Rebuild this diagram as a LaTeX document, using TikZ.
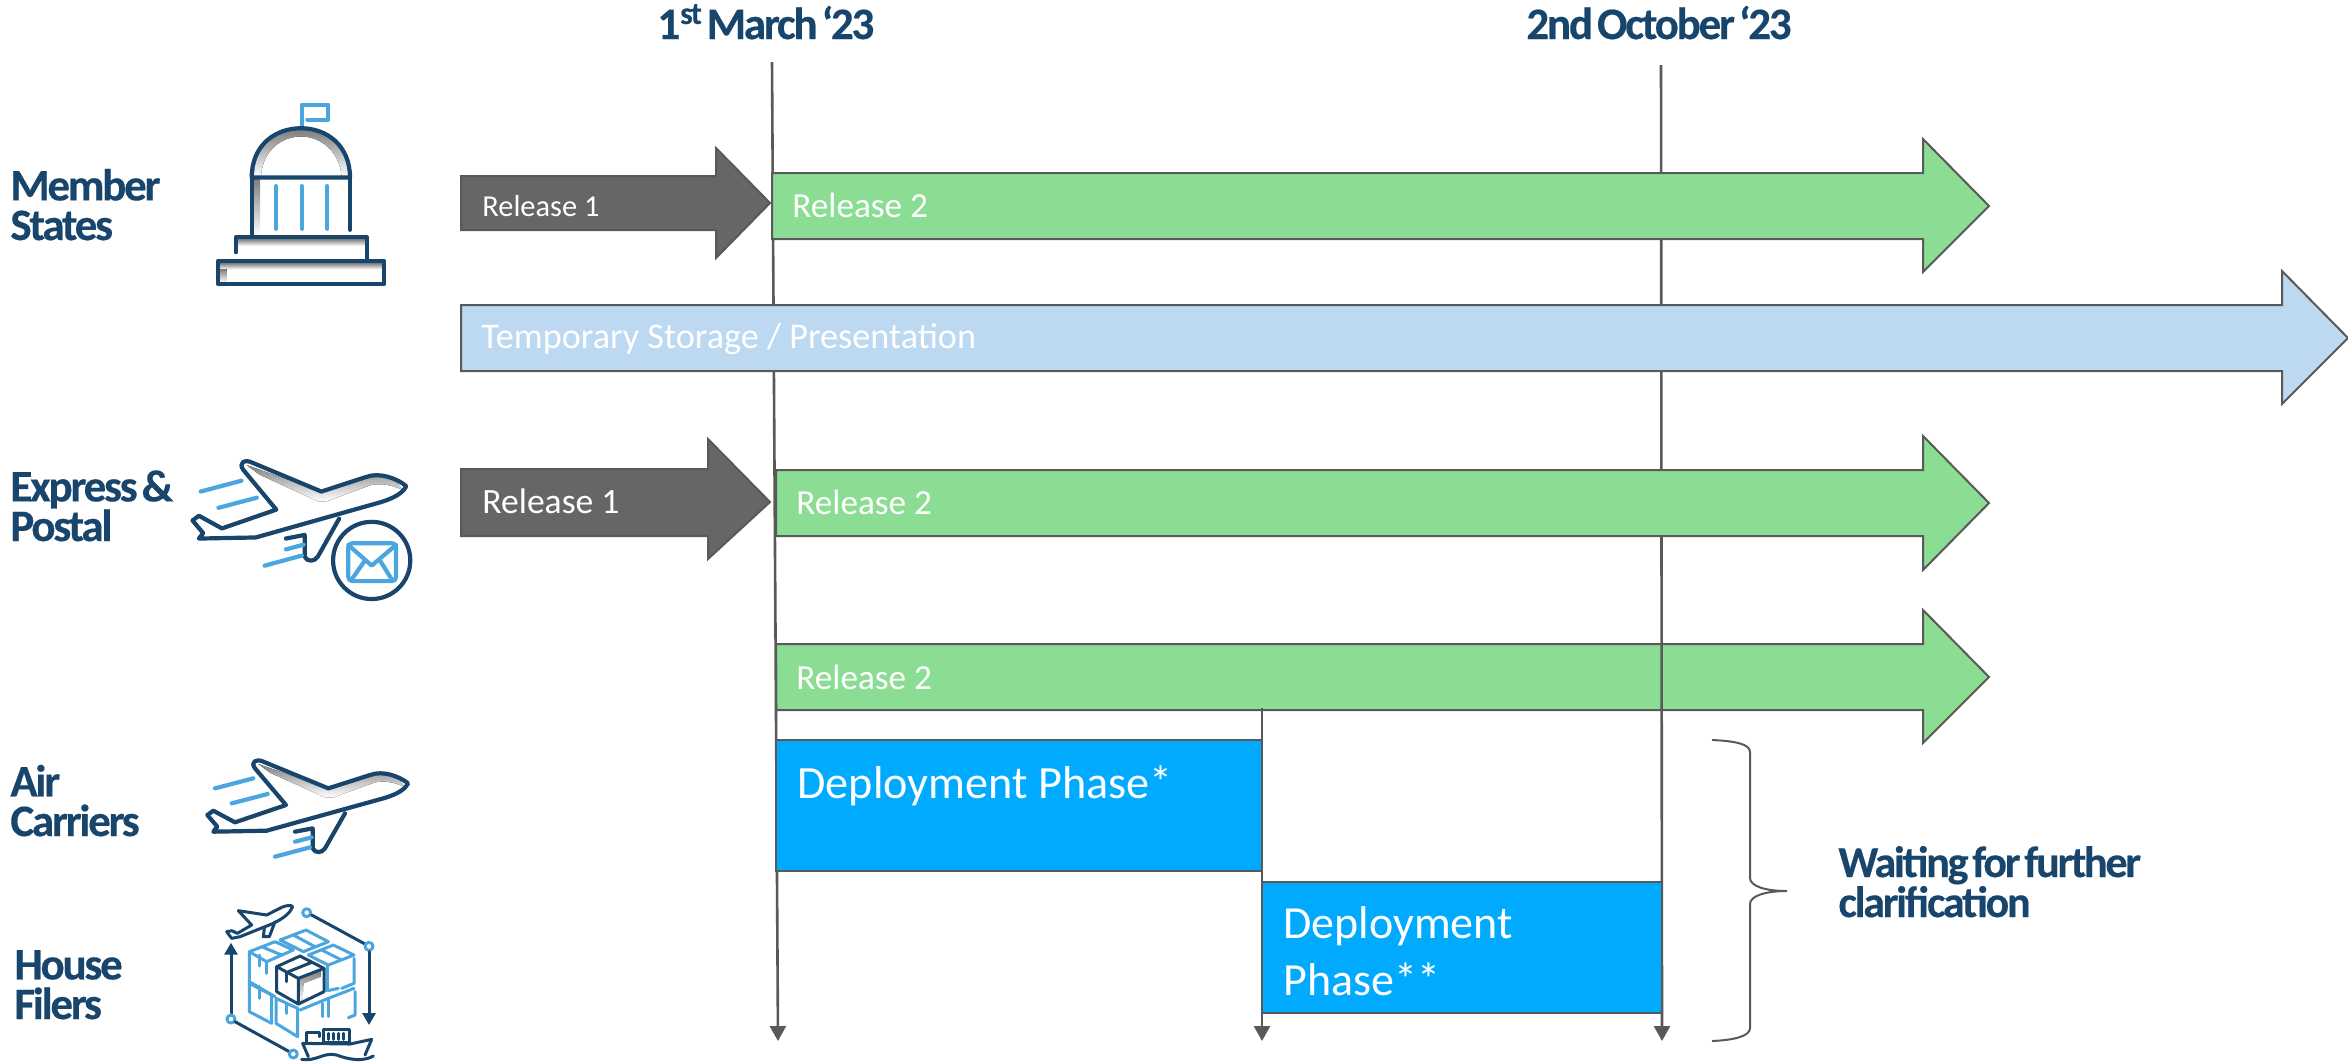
\documentclass[tikz,border=0pt]{standalone}
\usepackage{fontspec}
\usetikzlibrary{arrows.meta}
\setmainfont{Carlito}
\newfontfamily\headfont[LetterSpace=-5,FakeBold=0.35,WordSpace=0.5]{Carlito}
\definecolor{navy}{HTML}{17456B}
\definecolor{iconblue}{HTML}{4BA6E0}
\definecolor{shade}{HTML}{CCCCCC}
\definecolor{edgegrey}{HTML}{595959}
\definecolor{relgreen}{HTML}{8CDD94}
\definecolor{relgrey}{HTML}{666666}
\definecolor{tempblue}{HTML}{BDD9F2}
\definecolor{deploy}{HTML}{00AAFF}
\tikzset{
  barshape/.style={draw=edgegrey,line width=1pt,line join=miter},
  greybar/.style={barshape,fill=relgrey},
  greenbar/.style={barshape,fill=relgreen},
  tempbar/.style={barshape,fill=tempblue},
  deploybar/.style={barshape,fill=deploy},
  timeline/.style={draw=edgegrey,line width=1.3pt,-{Triangle[length=7.5pt,width=8pt]}},
  heading/.style={anchor=base west,inner sep=0pt,text=navy,align=left,font=\headfont\bfseries\fontsize{22.5}{19.8}\selectfont},
  barlabel/.style={anchor=base west,inner sep=0pt,text=white,align=left},
  darkline/.style={draw=navy,line width=2.1pt,line cap=round,line join=round},
  blueline/.style={draw=iconblue,line width=2.1pt,line cap=round,line join=round},
  thindark/.style={draw=navy,line width=1.5pt,line cap=round,line join=round},
  thinblue/.style={draw=iconblue,line width=1.5pt,line cap=round,line join=round},
}
\newcommand{\planeicon}{%
  \fill[shade] (775,132) -- (985,205) -- (1125,165) .. controls (1170,160) and (1200,175) .. (1212,200)
     .. controls (1180,185) and (1150,182) .. (1125,187) -- (1000,232) -- (975,232) -- (810,158) -- cycle;
  \draw[darkline] (640,272) -- (705,307) -- (858,255) -- (765,145) .. controls (750,125) and (770,115) .. (790,125)
     -- (985,205) -- (1110,165) .. controls (1150,150) and (1200,170) .. (1224,190)
     .. controls (1215,210) and (1185,225) .. (1150,235) -- (800,332) -- (640,335) -- (652,320) -- (622,285) -- cycle;
  \draw[darkline] (1035,280) -- (975,385) .. controls (965,400) and (945,400) .. (938,385) -- (938,325) -- (885,335);
  \draw[blueline] (645,205) -- (760,175);
  \draw[blueline] (695,250) -- (803,222);
  \draw[blueline] (825,410) -- (930,382);
  \draw[blueline] (885,365) -- (935,352);
}
\begin{document}
\begin{tikzpicture}[x=0.5pt,y=-0.5pt]
\useasboundingbox (0,0) rectangle (2348,1062);

% timeline end points
\coordinate (t1a) at (772,62);   \coordinate (t1b) at (778,1041);
\coordinate (t2a) at (1661,65);  \coordinate (t2b) at (1662,1041);
\coordinate (t3a) at (1262,708); \coordinate (t3b) at (1262,1041);

% third green arrow lies below the date lines
\draw[greenbar] (776,644) -- (1923,644) -- (1923,610) -- (1989,677) -- (1923,743) -- (1923,710) -- (776,710) -- cycle;

\draw[timeline] (t1a) -- (t1b);
\draw[timeline] (t2a) -- (t2b);
\draw[timeline] (t3a) -- (t3b);

% bars
\draw[greybar] (461,176) -- (716,176) -- (716,148) -- (770,203) -- (716,258) -- (716,230) -- (461,230) -- cycle;
\draw[greenbar] (772,173) -- (1923,173) -- (1923,139) -- (1989,206) -- (1923,272) -- (1923,239) -- (772,239) -- cycle;
\draw[tempbar] (461,305) -- (2282,305) -- (2282,271) -- (2348,338) -- (2282,404) -- (2282,371) -- (461,371) -- cycle;
\draw[greybar] (461,469) -- (708,469) -- (708,439) -- (770,502) -- (708,559) -- (708,536) -- (461,536) -- cycle;
\draw[greenbar] (776,470) -- (1923,470) -- (1923,436) -- (1989,503) -- (1923,570) -- (1923,536) -- (776,536) -- cycle;
\draw[deploybar] (776,740) rectangle (1262,871);
\draw[deploybar] (1262,882) rectangle (1662,1013);

% bar labels
\node[barlabel,font=\fontsize{15.2}{18}\selectfont] (r1a) at (482,216) {Release 1};
\node[barlabel,font=\fontsize{17.6}{21}\selectfont] (r2a) at (792,217) {Release 2};
\node[barlabel,font=\fontsize{18.1}{21}\selectfont] (temp) at (481,348) {Temporary Storage / Presentation};
\node[barlabel,font=\fontsize{17.8}{21}\selectfont] (r1b) at (482,513) {Release 1};
\node[barlabel,font=\fontsize{17.6}{21}\selectfont] (r2b) at (796,514) {Release 2};
\node[barlabel,font=\fontsize{17.6}{21}\selectfont] (r2c) at (796,689) {Release 2};
\node[barlabel,font=\fontsize{23.1}{28}\selectfont] (d1) at (797,798) {Deployment Phase*};
\node[barlabel,font=\fontsize{23}{28.5}\selectfont] (d2) at (1283,995) {Deployment\\Phase**};

% headings
\node[heading] (date1) at (657,39) {1\textsuperscript{st} March ‘23};
\node[heading] (date2) at (1526,39) {2nd October ‘23};
\node[heading] (ms) at (10,240) {Member\\States};
\node[heading] (ep) at (10,541) {Express \&\\Postal};
\node[heading] (ac) at (10,836) {Air\\Carriers};
\node[heading] (hf) at (14,1019) {House\\Filers};
\node[heading,font=\headfont\bfseries\fontsize{22}{20}\selectfont] (wait) at (1838,917) {Waiting for further\\clarification};

% brace
\draw[edgegrey,line width=1pt] (1712,740) .. controls (1735,741) and (1750,744) .. (1750,752) -- (1750,878)
  .. controls (1750,886) and (1765,891) .. (1787,891) .. controls (1765,891) and (1750,896) .. (1750,904)
  -- (1750,1028) .. controls (1750,1036) and (1735,1040) .. (1712,1041);

% member states icon
\begin{scope}[shift={(0,80)},x=0.16667pt,y=-0.1722pt]
  \fill[shade,even odd rule] (762,283) .. controls (762,190) and (825,145) .. (903,145) .. controls (980,145) and (1045,190) .. (1045,283) -- cycle
     (783,283) .. controls (785,210) and (840,164) .. (903,164) .. controls (965,164) and (1020,210) .. (1025,283) -- cycle;
  \fill[shade] (762,290) rectangle (780,452);
  \fill[shade] (712,462) rectangle (1095,482);
  \fill[shade] (660,532) rectangle (1146,550);
  \fill[shade] (660,550) rectangle (680,588);
  \draw[blueline] (905,135) -- (905,72) -- (985,72) -- (985,115) -- (922,115);
  \draw[blueline] (828,308) -- (828,432);
  \draw[blueline] (905,308) -- (905,432);
  \draw[blueline] (982,308) -- (982,432);
  \draw[darkline] (755,283) .. controls (755,190) and (825,140) .. (903,140) .. controls (980,140) and (1050,190) .. (1050,283) -- cycle;
  \draw[darkline] (755,283) -- (755,455);
  \draw[darkline] (1050,283) -- (1050,435);
  \draw[darkline] (707,500) -- (707,457) -- (1100,457) -- (1100,523);
  \draw[darkline] (655,525) rectangle (1152,593);
\end{scope}

% express and postal icon
\begin{scope}[shift={(-28.3,417.4)},x=0.1775pt,y=-0.1808pt]
  \planeicon
\end{scope}
\begin{scope}[shift={(0,80)},x=0.16667pt,y=-0.1722pt]
  \draw[darkline,fill=white] (1115,1395) circle[radius=19.3pt];
  \draw[blueline,rounded corners=2pt] (1045,1345) rectangle (1188,1455);
  \draw[blueline] (1045,1350) -- (1115,1410) -- (1188,1350);
  \draw[blueline] (1055,1450) -- (1095,1395);
  \draw[blueline] (1175,1450) -- (1140,1395);
\end{scope}

% air carriers icon
\begin{scope}[shift={(0,720)},x=0.16667pt,y=-0.16667pt]
  \planeicon
\end{scope}

% house filers icon
\begin{scope}[shift={(0,720)},x=0.16667pt,y=-0.16667pt]
  % small plane
  \draw[thindark] (715,572) -- (800,585) -- (845,562) .. controls (860,555) and (875,555) .. (878,560)
     .. controls (870,580) and (850,595) .. (820,610) -- (720,650) -- (695,655) -- (680,635) -- (695,632) -- (712,640) -- (755,615) -- cycle;
  \draw[thindark] (825,605) -- (808,650) -- (790,650) -- (793,625);
  % route
  \draw[thindark,-{Triangle[length=6pt,width=6.5pt]}] (693,880) -- (693,668);
  \draw[thinblue] (693,897) circle[radius=2pt];
  \draw[thindark] (705,905) -- (868,995);
  \draw[thinblue] (880,1002) circle[radius=2pt];
  \draw[thinblue] (920,578) circle[radius=2pt];
  \draw[thindark] (935,585) -- (1095,672);
  \draw[thinblue] (1107,679) circle[radius=2pt];
  \draw[thindark,-{Triangle[length=6pt,width=6.5pt]}] (1107,695) -- (1107,915);
  % stacked cartons
  \draw[thinblue] (748,695) -- (825,665) -- (880,690) -- (800,725) -- cycle;
  \draw[thinblue] (785,680) -- (845,705);
  \draw[thinblue] (840,660) -- (918,630) -- (985,665) -- (910,695) -- cycle;
  \draw[thinblue] (880,645) -- (945,680);
  \draw[thinblue] (925,705) -- (1000,675) -- (1062,705) -- (985,735) -- cycle;
  \draw[thinblue] (965,690) -- (1025,720);
  \draw[thinblue] (748,695) -- (748,785) -- (825,830);
  \draw[thinblue] (800,725) -- (800,760);
  \draw[thinblue] (778,705) -- (778,738);
  \draw[thinblue] (748,790) -- (748,875) -- (815,910) -- (815,825) -- cycle;
  \draw[thinblue] (778,800) -- (778,835);
  \draw[thinblue] (828,835) -- (828,910) -- (893,950) -- (893,865) -- cycle;
  \draw[thinblue] (860,850) -- (860,880);
  \draw[thinblue] (982,735) -- (982,812) -- (1015,805);
  \draw[thinblue] (1062,715) -- (1062,790) -- (1025,805);
  \draw[thinblue] (1062,805) -- (985,835) -- (900,870);
  \draw[thinblue] (1065,815) -- (1065,885) -- (1045,893);
  \draw[thinblue] (985,835) -- (985,890);
  \draw[thinblue] (968,850) -- (968,890);
  % front carton
  \fill[white] (830,740) -- (900,708) -- (972,745) -- (972,815) -- (895,852) -- (830,815) -- cycle;
  \fill[shade] (897,775) -- (962,752) -- (962,770) -- (910,790) -- (908,840) -- (897,845) -- cycle;
  \draw[thindark] (830,740) -- (900,708) -- (972,745) -- (895,775) -- cycle;
  \draw[thindark] (830,740) -- (830,815) -- (895,852) -- (895,775);
  \draw[thindark] (972,745) -- (972,815) -- (895,852);
  \draw[thindark] (865,755) -- (935,727);
  \draw[thindark] (860,757) -- (860,785);
  % ship
  \draw[thindark] (908,970) -- (1050,972) -- (1115,958) -- (1095,1005);
  \draw[thindark] (908,970) -- (925,1010);
  \draw[thindark] (905,1018) .. controls (950,1025) and (970,995) .. (1010,1005) .. controls (1050,1020) and (1090,1025) .. (1120,1008);
  \draw[thindark] (970,928) rectangle (1048,968);
  \foreach \bx in {985,1000,1015,1030} \draw[thindark] (\bx,940) -- (\bx,958);
  \draw[thindark] (918,965) -- (918,938) -- (958,938) -- (958,950);
\end{scope}
\end{tikzpicture}
\end{document}
